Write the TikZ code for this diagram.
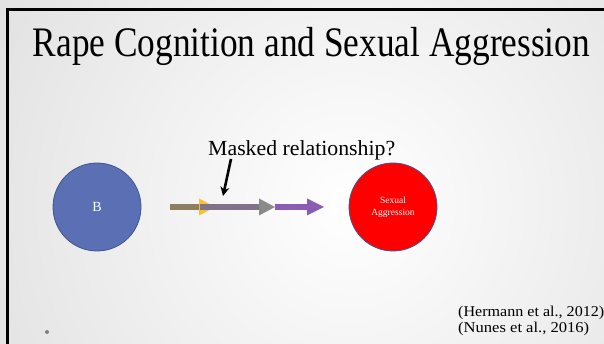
\documentclass[tikz,border=0pt]{standalone}
\usepackage{fontspec}
\setmainfont{Liberation Serif}
\usetikzlibrary{arrows.meta}

\definecolor{bgedge}{HTML}{D4D4D4}
\definecolor{nodeblue}{HTML}{5B6FB5}
\definecolor{nodeedge}{HTML}{41558F}
\definecolor{olive}{HTML}{8C7E5E}
\definecolor{slate}{HTML}{7E7388}
\definecolor{headgray}{HTML}{8A8A8A}
\definecolor{violet}{HTML}{8B5CB3}
\definecolor{amber}{HTML}{F7C131}

\tikzset{
  x=1pt, y=1pt,
  bubble/.style={circle, minimum size=88pt, inner sep=0pt, draw=nodeedge, line width=0.8pt, text=white, align=center},
  flow/.style={line width=6pt},
  reftext/.style={anchor=base west, font=\fontsize{15}{17}\selectfont, inner sep=0pt},
}

\begin{document}
\begin{tikzpicture}
  \useasboundingbox (0,0) rectangle (604,344);

  % slide background: soft radial glow
  \begin{scope}
    \clip (0,0) rectangle (604,344);
    \fill[bgedge] (0,0) rectangle (604,344);
    \shade[inner color=white, outer color=bgedge] (350,140) circle (600);
  \end{scope}

  % frame along the top and left edges
  \draw[line width=3pt, line cap=rect] (7.5,0) -- (7.5,334) -- (610,334);

  % title
  \node[anchor=base, inner sep=0pt, font=\fontsize{42}{46}\selectfont] (title) at (311.5,287)
    {\resizebox{557pt}{\height}{Rape Cognition and Sexual Aggression}};

  % the two constructs
  \node[bubble, fill=nodeblue, font=\fontsize{14}{16}\selectfont] (b) at (97,137) {B};
  \node[bubble, fill=red, font=\fontsize{9.5}{11.5}\selectfont] (sa) at (393,137) {Sexual\\Aggression};

  % colour-coded path between them
  \coordinate (p0) at (170,137);
  \coordinate (p1) at (200,137);
  \coordinate (p2) at (259,137);
  \coordinate (p3) at (307,137);
  \coordinate (p4) at (324,137);
  \draw[flow, olive] (p0) -- (p1);
  \fill[amber] (199,145.5) -- (215,137) -- (199,128.5) -- cycle;
  \draw[flow, slate] (p1) -- (p2);
  \fill[headgray] (259,145.5) -- (275,137) -- (259,128.5) -- cycle;
  \draw[flow, violet] (275,137) -- (p3);
  \fill[violet] (p3) ++(0,8.5) -- (p4) -- ++(-17,-8.5) -- cycle;

  % question label and its pointer
  \node[anchor=base west, inner sep=0pt, font=\fontsize{21.5}{24}\selectfont] (q) at (208,188)
    {\resizebox{187pt}{\height}{Masked relationship?}};
  \coordinate (qstart) at (231,185);
  \coordinate (qtip) at (223,148);
  \draw[line width=2.6pt, -{Stealth[length=9pt,width=9pt]}] (qstart) -- (qtip);

  % references
  \node[reftext] (r1) at (458,27) {\resizebox{146pt}{\height}{(Hermann et al., 2012)}};
  \node[reftext] (r2) at (458,11) {\resizebox{131pt}{\height}{(Nunes et al., 2016)}};

  % footer bullet
  \fill[gray] (47,12) circle (2);
\end{tikzpicture}
\end{document}
